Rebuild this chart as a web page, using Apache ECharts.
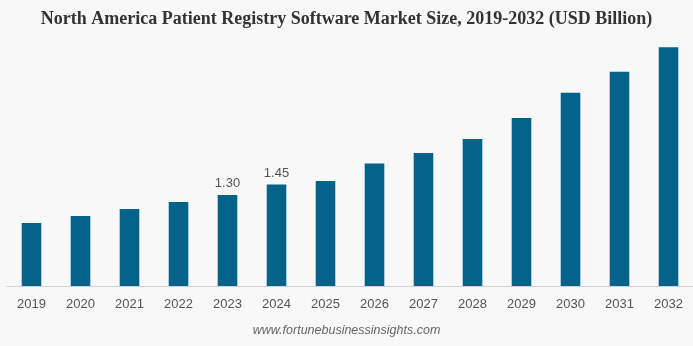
<!DOCTYPE html>
<html>
<head>
<meta charset="utf-8">
<script src="https://cdn.jsdelivr.net/npm/echarts@6/dist/echarts.min.js"></script>
<style>
html,body{margin:0;padding:0;background:#f8f8f8;}
#c{width:693px;height:346px;}
</style>
</head>
<body>
<div id="c"></div>
<script>
const years = ['2019','2020','2021','2022','2023','2024','2025','2026','2027','2028','2029','2030','2031','2032'];
const values = [0.90, 1.00, 1.10, 1.20, 1.30, 1.45, 1.50, 1.75, 1.90, 2.10, 2.40, 2.76, 3.06, 3.41];
const labeledYears = ['2023','2024'];

const chart = echarts.init(document.getElementById('c'));
chart.setOption({
  backgroundColor: '#f8f8f8',
  animation: false,
  title: {
    text: 'North America Patient Registry Software Market Size, 2019-2032 (USD Billion)',
    left: 'center',
    top: 5,
    textStyle: {fontFamily: 'Liberation Serif', fontWeight: 'bold', fontSize: 18, color: '#333'}
  },
  graphic: [{
    type: 'text',
    left: 'center',
    top: 324,
    style: {text: 'www.fortunebusinessinsights.com', font: 'italic 12.5px "Liberation Sans"', fill: '#666'}
  }],
  grid: {left: 7, right: 0, top: 41, bottom: 60},
  xAxis: {
    type: 'category',
    data: years,
    axisLine: {lineStyle: {color: '#d0d0d0'}},
    axisTick: {show: false},
    axisLabel: {color: '#555', fontSize: 13, fontFamily: 'Liberation Sans', margin: 12}
  },
  yAxis: {type: 'value', min: 0, max: 3.5, show: false, splitLine: {show: false}},
  series: [{
    type: 'bar',
    barWidth: '40%',
    itemStyle: {color: '#05638a'},
    data: values.map((v, i) => ({
      value: v,
      label: {
        show: labeledYears.includes(years[i]),
        position: 'top',
        formatter: p => p.value.toFixed(2),
        color: '#555', fontSize: 13, fontFamily: 'Liberation Sans', distance: 5
      }
    }))
  }]
});
</script>
</body>
</html>
